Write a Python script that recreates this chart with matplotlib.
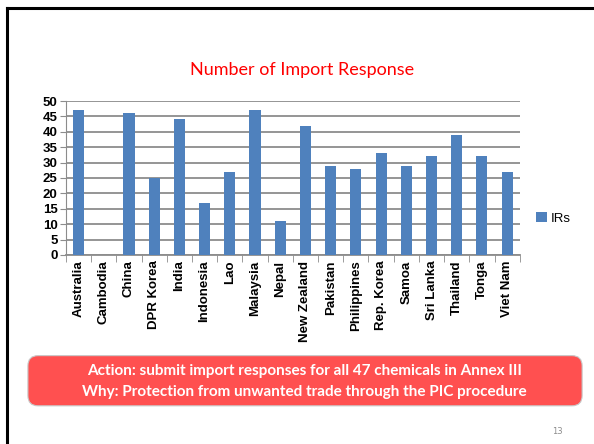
import matplotlib.pyplot as plt
from matplotlib.patches import FancyBboxPatch
from matplotlib.lines import Line2D

# data
countries = ["Australia", "Cambodia", "China", "DPR Korea", "India", "Indonesia",
             "Lao", "Malaysia", "Nepal", "New Zealand", "Pakistan", "Philippines",
             "Rep. Korea", "Samoa", "Sri Lanka", "Thailand", "Tonga", "Viet Nam"]
irs = [47, 0, 46, 25, 44, 17, 27, 47, 11, 42, 29, 28, 33, 29, 32, 39, 32, 27]
yticks = list(range(0, 51, 5))

bar_color = '#4F81BD'
tick_font = ['Liberation Sans Narrow', 'Liberation Sans', 'DejaVu Sans']

fig = plt.figure(figsize=(5.94, 4.44), dpi=100)
ax = fig.add_axes([0.111, 0.4257, 0.764, 0.3468])

x = list(range(len(countries)))
ax.bar(x, irs, width=0.44, color=bar_color, label='IRs', zorder=3)
ax.set_xlim(-0.5, len(countries) - 0.5)
ax.set_ylim(0, 50)
ax.set_yticks(yticks)
ax.set_yticklabels([str(v) for v in yticks], family=tick_font, fontweight='bold', fontsize=9.5)
ax.yaxis.grid(True, color='#8c8c8c', linewidth=1.3, zorder=0)
ax.set_xticks(x)
ax.set_xticklabels(countries, rotation=90, family=tick_font, fontweight='bold', fontsize=9.5)
ax.tick_params(axis='x', length=0, pad=4)
ax.set_xticks([i + 0.5 for i in range(-1, len(countries))], minor=True)
ax.tick_params(axis='x', which='minor', length=5, color='#8c8c8c')
ax.tick_params(axis='y', length=4, color='#8c8c8c', pad=2)
for s in ['top', 'right']:
    ax.spines[s].set_visible(False)
ax.spines['left'].set_color('#8c8c8c')
ax.spines['bottom'].set_color('#8c8c8c')
ax.spines['bottom'].set_linewidth(1.3)

leg = ax.legend(loc='center left', bbox_to_anchor=(1.01, 0.24), frameon=False,
                handlelength=0.8, handleheight=0.9, handletextpad=0.3,
                prop={'family': tick_font, 'size': 9.5})

# title
fig.text(0.509, 0.842, "Number of Import Response", color='#FF0000', ha='center', va='center',
         fontsize=13, family=['Lato', 'DejaVu Sans'])

# slide frame
fig.add_artist(Line2D([0.011, 1.0], [0.982, 0.982], color='black', linewidth=2.2))
fig.add_artist(Line2D([0.012, 0.012], [0.0, 0.982], color='black', linewidth=2.2))

# red action box
box = FancyBboxPatch((0.047, 0.086), 0.933, 0.113, boxstyle='round,pad=0,rounding_size=0.017',
                     transform=fig.transFigure, facecolor='#FF5050', edgecolor='#c8c8c8',
                     linewidth=0.8, mutation_aspect=594 / 444)
fig.add_artist(box)
fig.text(0.513, 0.164, "Action: submit import responses for all 47 chemicals in Annex III",
         color='white', ha='center', va='center', fontsize=11, fontweight='bold',
         family=['Lato', 'DejaVu Sans'])
fig.text(0.513, 0.118, "Why: Protection from unwanted trade through the PIC procedure",
         color='white', ha='center', va='center', fontsize=11, fontweight='bold',
         family=['Lato', 'DejaVu Sans'])

fig.text(0.938, 0.029, "13", color='#8c8c8c', ha='center', va='center', fontsize=6)

fig.savefig('out.png', dpi=100)
